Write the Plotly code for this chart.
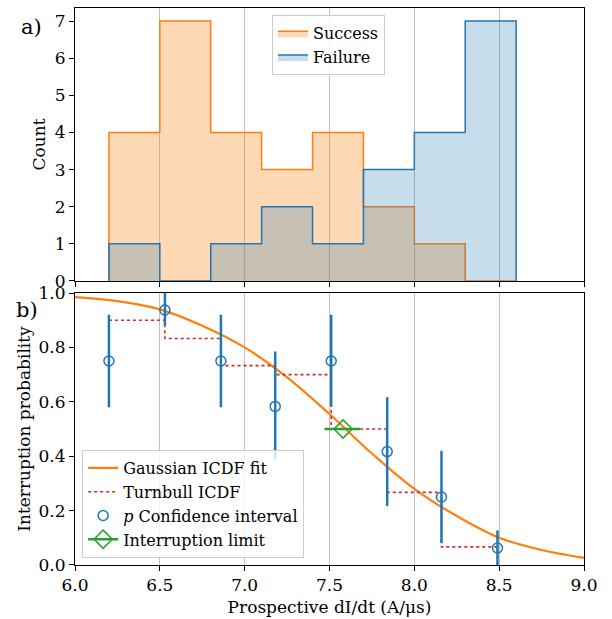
from plotly import graph_objects as go

# histogram (panel a)
bin_edges = [6.2, 6.5, 6.8, 7.1, 7.4, 7.7, 8.0, 8.3, 8.6]
success_counts = [4, 7, 4, 3, 4, 2, 1, 0]
failure_counts = [1, 0, 1, 2, 1, 3, 4, 7]

# interruption probability points (panel b)
p_x = [6.2, 6.53, 6.86, 7.18, 7.51, 7.84, 8.16, 8.49]
p_y = [0.75, 0.9375, 0.75, 0.583, 0.75, 0.417, 0.25, 0.0625]
ci_low = [0.58, 0.88, 0.58, 0.388, 0.584, 0.217, 0.08, 0.0]
ci_high = [0.92, 1.0, 0.92, 0.785, 0.92, 0.617, 0.42, 0.127]

# Turnbull step estimate
turnbull_x = [6.2, 6.53, 6.86, 7.18, 7.51, 7.84, 8.16, 8.49]
turnbull_y = [0.9, 0.833, 0.733, 0.70, 0.5, 0.267, 0.0667, 0.0]

# Gaussian ICDF fit
fit_x = [6.0, 6.25, 6.5, 6.75, 7.0, 7.25, 7.5, 7.75, 8.0, 8.25, 8.5, 8.75, 9.0]
fit_y = [0.985, 0.97, 0.94, 0.88, 0.80, 0.69, 0.555, 0.41, 0.28, 0.18, 0.10, 0.055, 0.026]

# interruption limit
limit_x = [7.58]
limit_y = [0.5]
limit_lo = [7.47]
limit_hi = [7.68]

FONT = "DejaVu Serif"
BLUE = "#1f77b4"
ORANGE = "#ff7f0e"
GREEN = "#2ca02c"
RED = "#d62728"


def step_outline(edges, counts):
    # outline of a step histogram, starting and ending on zero
    xs = [edges[0]] + list(edges) + [edges[-1]]
    ys = [0] + list(counts) + [counts[-1], 0]
    return xs, ys


fig = go.Figure()

sx, sy = step_outline(bin_edges, success_counts)
fig.add_trace(go.Scatter(x=sx, y=sy, mode="lines", line=dict(color=ORANGE, width=1.5, shape="hv"),
                         fill="tozeroy", fillcolor="rgba(255,127,14,0.3)", name="Success",
                         xaxis="x", yaxis="y", legend="legend"))
fx, fy = step_outline(bin_edges, failure_counts)
fig.add_trace(go.Scatter(x=fx, y=fy, mode="lines", line=dict(color=BLUE, width=1.5, shape="hv"),
                         fill="tozeroy", fillcolor="rgba(31,119,180,0.25)", name="Failure",
                         xaxis="x", yaxis="y", legend="legend"))

# panel b
fig.add_trace(go.Scatter(x=fit_x, y=fit_y, mode="lines", line=dict(color=ORANGE, width=2.2, shape="spline"),
                         name="Gaussian ICDF fit", xaxis="x2", yaxis="y2", legend="legend2"))
fig.add_trace(go.Scatter(x=turnbull_x, y=turnbull_y, mode="lines",
                         line=dict(color=RED, width=1.6, dash="dot", shape="hv"),
                         name="Turnbull ICDF", xaxis="x2", yaxis="y2", legend="legend2"))
fig.add_trace(go.Scatter(
    x=p_x, y=p_y, mode="markers",
    marker=dict(symbol="circle-open", size=10, color=BLUE, line=dict(width=1.5, color=BLUE)),
    error_y=dict(type="data", symmetric=False,
                 array=[h - y for h, y in zip(ci_high, p_y)],
                 arrayminus=[y - l for l, y in zip(ci_low, p_y)],
                 color=BLUE, thickness=2.5, width=0),
    name="<i>p</i> Confidence interval", xaxis="x2", yaxis="y2", legend="legend2"))
fig.add_trace(go.Scatter(
    x=limit_x, y=limit_y, mode="lines+markers",
    line=dict(color=GREEN, width=2.5),
    marker=dict(symbol="diamond-open", size=14, color=GREEN, line=dict(width=1.5, color=GREEN)),
    error_x=dict(type="data", symmetric=False,
                 array=[h - x for h, x in zip(limit_hi, limit_x)],
                 arrayminus=[x - l for l, x in zip(limit_lo, limit_x)],
                 color=GREEN, thickness=2.5, width=0),
    name="Interruption limit", xaxis="x2", yaxis="y2", legend="legend2"))

axis_common = dict(showline=True, linecolor="black", linewidth=1, mirror=True, automargin=False,
                   ticks="outside", ticklen=5, tickcolor="black", zeroline=False,
                   tickfont=dict(family=FONT, size=17, color="black"))

fig.update_layout(
    width=612, height=619,
    margin=dict(l=75, r=28, t=8, b=54),
    plot_bgcolor="white", paper_bgcolor="white",
    font=dict(family=FONT, size=17, color="black"),
    xaxis=dict(axis_common, domain=[0, 1], anchor="y", range=[6, 9], matches="x2",
               showticklabels=False, dtick=0.5, showgrid=True, gridcolor="#c0c0c0", gridwidth=1),
    yaxis=dict(axis_common, domain=[0.5099, 1], anchor="x", range=[0, 7.35], dtick=1, showgrid=False,
               title=dict(text="Count", standoff=4, font=dict(family=FONT, size=17))),
    xaxis2=dict(axis_common, domain=[0, 1], anchor="y2", range=[6, 9], dtick=0.5, tickformat=".1f",
                showgrid=True, gridcolor="#c0c0c0", gridwidth=1,
                title=dict(text="Prospective dI/dt (A/μs)", standoff=6, font=dict(family=FONT, size=17))),
    yaxis2=dict(axis_common, domain=[0, 0.4883], anchor="x2", range=[0, 1], dtick=0.2, tickformat=".1f",
                showgrid=False,
                title=dict(text="Interruption probability", standoff=3, font=dict(family=FONT, size=17))),
    legend=dict(x=0.387, y=0.987, xanchor="left", yanchor="top", bgcolor="rgba(255,255,255,0.8)",
                bordercolor="#cccccc", borderwidth=1, font=dict(family=FONT, size=16)),
    legend2=dict(x=0.014, y=0.0126, xanchor="left", yanchor="bottom", bgcolor="rgba(255,255,255,0.8)",
                 bordercolor="#cccccc", borderwidth=1, font=dict(family=FONT, size=16)),
    annotations=[
        dict(text="a)", x=-0.086, y=0.966, xref="paper", yref="paper", showarrow=False,
             xanchor="center", yanchor="middle", font=dict(family=FONT, size=21)),
        dict(text="b)", x=-0.094, y=0.458, xref="paper", yref="paper", showarrow=False,
             xanchor="center", yanchor="middle", font=dict(family=FONT, size=21)),
    ],
)

# page has a default 8px body margin, drop it so the figure fills the window
fig.write_html("out.html", config={"displayModeBar": False},
               post_script="document.body.style.margin='0px';")
